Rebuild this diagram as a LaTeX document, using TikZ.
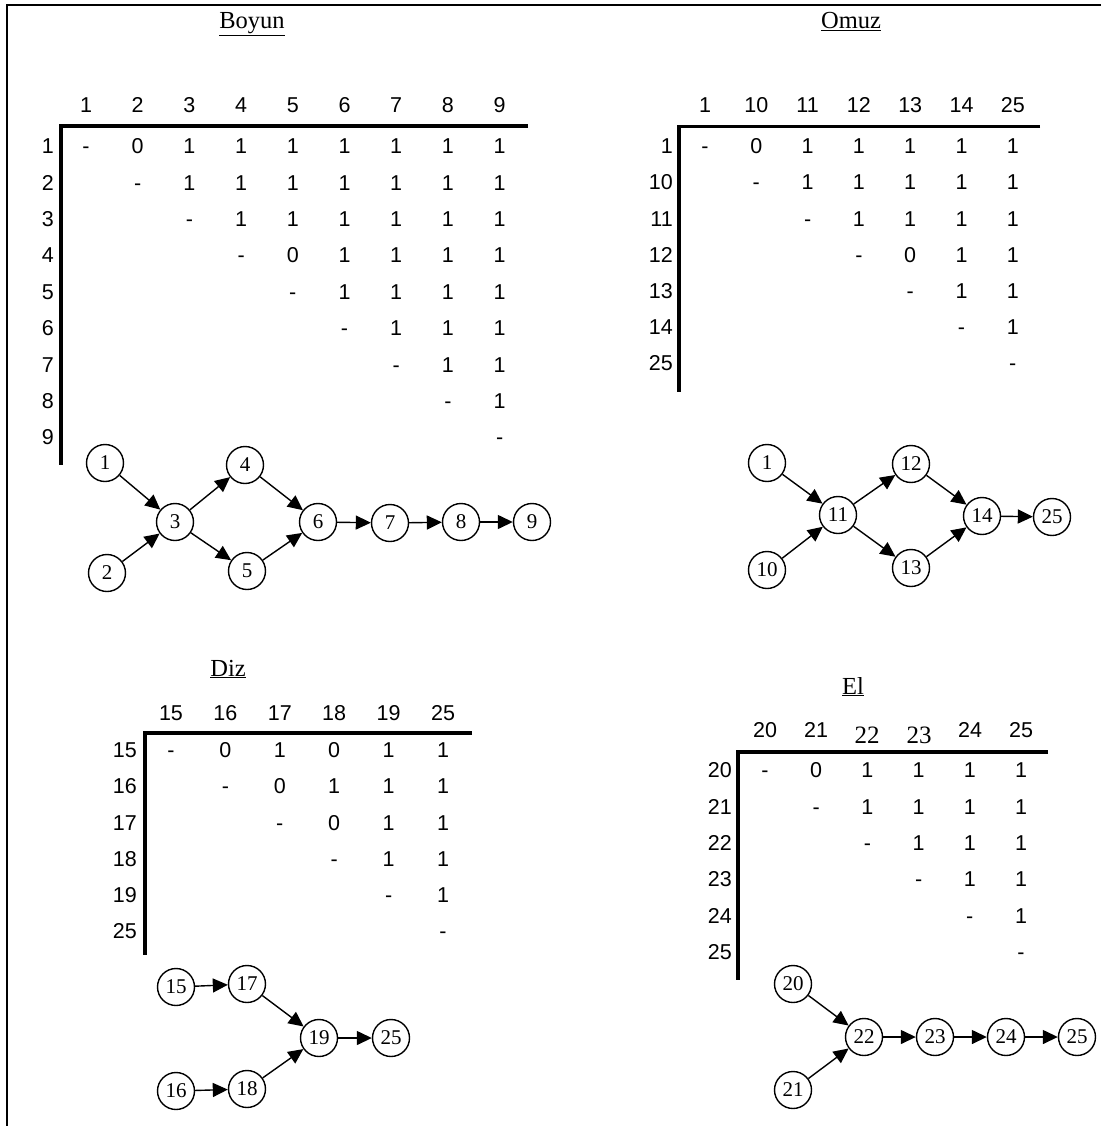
\documentclass[tikz,border=0pt]{standalone}
\usepackage{fontspec}
\setmainfont{Liberation Serif}
\newfontfamily\arialfont{Liberation Sans}
\usetikzlibrary{arrows.meta}

\begin{document}
\begin{tikzpicture}[x=1pt,y=-1pt,
  cell/.style={font=\arialfont\fontsize{21.5}{24}\selectfont, inner sep=0pt,
               text height=15.4pt, text depth=0pt, anchor=center},
  rowlab/.style={cell, anchor=east},
  tcell/.style={font=\fontsize{25}{28}\selectfont, inner sep=0pt,
               text height=16.9pt, text depth=0pt, anchor=center},
  ttl/.style={font=\fontsize{24.5}{28}\selectfont, inner sep=0pt, anchor=base},
  axis/.style={line width=3.2pt, line join=miter},
  frame/.style={line width=2.6pt, line join=miter},
  vtx/.style={circle, draw, line width=1.4pt, minimum size=37pt, inner sep=0pt,
              font=\fontsize{21}{23}\selectfont},
  edge/.style={line width=1.4pt, -{Triangle[length=15pt,width=14pt]}}]

\useasboundingbox (0,0) rectangle (1101,1126);

% outer frame: top and left rules
\coordinate (fr) at (1101,5);
\coordinate (fc) at (7,5);
\coordinate (fb) at (7,1126);
\draw[frame] (fr) -- (fc) -- (fb);

%% ---------------- Boyun ----------------
\node[ttl] (tB) at (252,29) {\underline{Boyun}};
\foreach \h [count=\c] in {1,...,9}
  \node[cell] (Bh\c) at ({86+51.7*(\c-1)},105) {\h};
\foreach \h [count=\r] in {1,...,9}
  \node[rowlab] (Br\r) at (54,{146+36.4*(\r-1)}) {\h};
\coordinate (Bo) at (61,126);
\coordinate (Be) at (528,126);
\coordinate (Bv) at (61,465);
\draw[axis] (Be) -- (Bo) -- (Bv);
\foreach \vals [count=\r] in {{-,0,1,1,1,1,1,1,1},{-,1,1,1,1,1,1,1},
    {-,1,1,1,1,1,1},{-,0,1,1,1,1},{-,1,1,1,1},{-,1,1,1},{-,1,1},{-,1},{-}}
  \foreach \v [count=\k] in \vals {
    \pgfmathtruncatemacro\c{\r+\k-1}
    \node[cell] (Bc\r-\c) at ({86+51.7*(\c-1)},{146+36.4*(\r-1)}) {\v};
  }

\node[vtx] (b1) at (105,463) {1};
\node[vtx] (b2) at (107,573) {2};
\node[vtx] (b3) at (175,522) {3};
\node[vtx] (b4) at (245,465) {4};
\node[vtx] (b5) at (247,571) {5};
\node[vtx] (b6) at (318,522) {6};
\node[vtx] (b7) at (390,523) {7};
\node[vtx] (b8) at (461,522) {8};
\node[vtx] (b9) at (532,522) {9};
\draw[edge] (b1) -- (b3);
\draw[edge] (b2) -- (b3);
\draw[edge] (b3) -- (b4);
\draw[edge] (b3) -- (b5);
\draw[edge] (b4) -- (b6);
\draw[edge] (b5) -- (b6);
\draw[edge] (b6) -- (b7);
\draw[edge] (b7) -- (b8);
\draw[edge] (b8) -- (b9);

%% ---------------- Omuz ----------------
\node[ttl] (tO) at (851,29) {\underline{Omuz}};
\foreach \h [count=\c] in {1,10,11,12,13,14,25}
  \node[cell] (Oh\c) at ({705+51.3*(\c-1)},105) {\h};
\foreach \h [count=\r] in {1,10,11,12,13,14,25}
  \node[rowlab] (Or\r) at (673,{146+36.2*(\r-1)}) {\h};
\coordinate (Oo) at (679,126.5);
\coordinate (Oe) at (1040,126.5);
\coordinate (Ov) at (679,392);
\draw[axis] (Oe) -- (Oo) -- (Ov);
\foreach \vals [count=\r] in {{-,0,1,1,1,1,1},{-,1,1,1,1,1},{-,1,1,1,1},
    {-,0,1,1},{-,1,1},{-,1},{-}}
  \foreach \v [count=\k] in \vals {
    \pgfmathtruncatemacro\c{\r+\k-1}
    \node[cell] (Oc\r-\c) at ({705+51.3*(\c-1)},{146+36.2*(\r-1)}) {\v};
  }

\node[vtx] (o1)  at (767,463) {1};
\node[vtx] (o10) at (767,570) {10};
\node[vtx] (o11) at (838,515) {11};
\node[vtx] (o12) at (911,464) {12};
\node[vtx] (o13) at (911,568) {13};
\node[vtx] (o14) at (982,516) {14};
\node[vtx] (o25) at (1052,517) {25};
\draw[edge] (o1) -- (o11);
\draw[edge] (o10) -- (o11);
\draw[edge] (o11) -- (o12);
\draw[edge] (o11) -- (o13);
\draw[edge] (o12) -- (o14);
\draw[edge] (o13) -- (o14);
\draw[edge] (o14) -- (o25);

%% ---------------- Diz ----------------
\node[ttl] (tD) at (228,676) {\underline{Diz}};
\foreach \h [count=\c] in {15,16,17,18,19,25}
  \node[cell] (Dh\c) at ({171+54.4*(\c-1)},713) {\h};
\foreach \h [count=\r] in {15,16,17,18,19,25}
  \node[rowlab] (Dr\r) at (137,{750+36.2*(\r-1)}) {\h};
\coordinate (Do) at (145,733);
\coordinate (De) at (472,733);
\coordinate (Dv) at (145,955);
\draw[axis] (De) -- (Do) -- (Dv);
\foreach \vals [count=\r] in {{-,0,1,0,1,1},{-,0,1,1,1},{-,0,1,1},
    {-,1,1},{-,1},{-}}
  \foreach \v [count=\k] in \vals {
    \pgfmathtruncatemacro\c{\r+\k-1}
    \node[cell] (Dc\r-\c) at ({171+54.4*(\c-1)},{750+36.2*(\r-1)}) {\v};
  }

\node[vtx] (d15) at (176,987) {15};
\node[vtx] (d17) at (247,984) {17};
\node[vtx] (d16) at (176,1091) {16};
\node[vtx] (d18) at (247,1089) {18};
\node[vtx] (d19) at (319,1038) {19};
\node[vtx] (d25) at (391,1038) {25};
\draw[edge] (d15) -- (d17);
\draw[edge] (d16) -- (d18);
\draw[edge] (d17) -- (d19);
\draw[edge] (d18) -- (d19);
\draw[edge] (d19) -- (d25);

%% ---------------- El ----------------
\node[ttl] (tE) at (853,694) {\underline{El}};
\node[cell]  (Eh1) at (765,729.5) {20};
\node[cell]  (Eh2) at (816,729.5) {21};
\node[tcell] (Eh3) at (867,735) {22};
\node[tcell] (Eh4) at (919,735) {23};
\node[cell]  (Eh5) at (970,729.5) {24};
\node[cell]  (Eh6) at (1021,729.5) {25};
\foreach \h [count=\r] in {20,21,22,23,24,25}
  \node[rowlab] (Er\r) at (732,{770+36.4*(\r-1)}) {\h};
\coordinate (Eo) at (738,752);
\coordinate (Ee) at (1048,752);
\coordinate (Ev) at (738,980);
\draw[axis] (Ee) -- (Eo) -- (Ev);
\foreach \vals [count=\r] in {{-,0,1,1,1,1},{-,1,1,1,1},{-,1,1,1},
    {-,1,1},{-,1},{-}}
  \foreach \v [count=\k] in \vals {
    \pgfmathtruncatemacro\c{\r+\k-1}
    \node[cell] (Ec\r-\c) at ({765+51.2*(\c-1)},{770+36.4*(\r-1)}) {\v};
  }

\node[vtx] (e20) at (793,984) {20};
\node[vtx] (e21) at (793,1090) {21};
\node[vtx] (e22) at (864,1037) {22};
\node[vtx] (e23) at (935,1037) {23};
\node[vtx] (e24) at (1006,1037) {24};
\node[vtx] (e25) at (1077,1037) {25};
\draw[edge] (e20) -- (e22);
\draw[edge] (e21) -- (e22);
\draw[edge] (e22) -- (e23);
\draw[edge] (e23) -- (e24);
\draw[edge] (e24) -- (e25);

\end{tikzpicture}
\end{document}
